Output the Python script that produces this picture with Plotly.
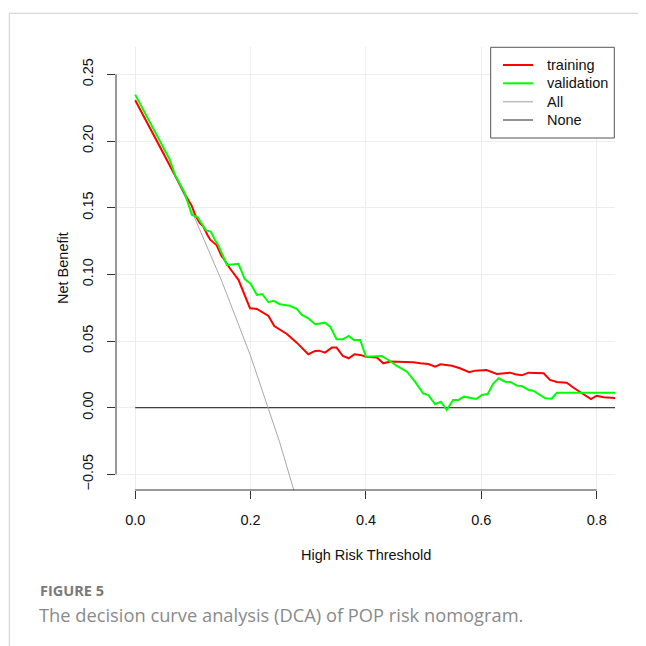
import plotly.graph_objects as go

# ---- data ----
series_names = ["training", "validation", "All", "None"]

train_t = [0.000, 0.060, 0.075, 0.087, 0.098, 0.104, 0.112, 0.118, 0.125, 0.130, 0.141, 0.150,
           0.153, 0.164, 0.179, 0.189, 0.199, 0.211, 0.231, 0.241, 0.251, 0.263, 0.280, 0.300,
           0.312, 0.319, 0.329, 0.341, 0.349, 0.360, 0.370, 0.380, 0.390, 0.400, 0.419, 0.430,
           0.442, 0.462, 0.482, 0.494, 0.508, 0.520, 0.529, 0.549, 0.563, 0.579, 0.589, 0.609,
           0.627, 0.650, 0.659, 0.670, 0.682, 0.708, 0.719, 0.731, 0.748, 0.760, 0.771, 0.780,
           0.790, 0.800, 0.812, 0.832]
train_nb = [0.2305, 0.1810, 0.1690, 0.1595, 0.1514, 0.1445, 0.1384, 0.1360, 0.1297, 0.1260, 0.1220, 0.1134,
            0.1120, 0.1046, 0.0959, 0.0846, 0.0746, 0.0741, 0.0688, 0.0613, 0.0583, 0.0553, 0.0488, 0.0401,
            0.0426, 0.0428, 0.0413, 0.0451, 0.0451, 0.0388, 0.0371, 0.0401, 0.0396, 0.0383, 0.0376, 0.0333,
            0.0346, 0.0346, 0.0341, 0.0333, 0.0328, 0.0308, 0.0326, 0.0315, 0.0296, 0.0266, 0.0278, 0.0283,
            0.0253, 0.0263, 0.0251, 0.0243, 0.0263, 0.0258, 0.0208, 0.0193, 0.0188, 0.0150, 0.0118, 0.0095,
            0.0065, 0.0090, 0.0078, 0.0073]

valid_t = [0.000, 0.060, 0.069, 0.086, 0.098, 0.108, 0.123, 0.131, 0.138, 0.144, 0.150, 0.159,
           0.179, 0.190, 0.200, 0.211, 0.220, 0.231, 0.240, 0.251, 0.268, 0.280, 0.289, 0.300,
           0.312, 0.329, 0.338, 0.349, 0.360, 0.370, 0.379, 0.390, 0.400, 0.427, 0.439, 0.453,
           0.471, 0.485, 0.499, 0.508, 0.520, 0.530, 0.540, 0.551, 0.560, 0.570, 0.591, 0.601,
           0.611, 0.621, 0.630, 0.641, 0.650, 0.662, 0.670, 0.682, 0.690, 0.711, 0.722, 0.731,
           0.832]
valid_nb = [0.2348, 0.1860, 0.1746, 0.1610, 0.1447, 0.1430, 0.1329, 0.1321, 0.1260, 0.1221, 0.1160, 0.1071,
            0.1079, 0.0964, 0.0930, 0.0846, 0.0853, 0.0791, 0.0801, 0.0776, 0.0764, 0.0741, 0.0696, 0.0671,
            0.0626, 0.0638, 0.0608, 0.0513, 0.0513, 0.0538, 0.0508, 0.0508, 0.0383, 0.0388, 0.0358, 0.0315,
            0.0270, 0.0195, 0.0108, 0.0095, 0.0026, 0.0045, -0.0017, 0.0058, 0.0058, 0.0083, 0.0065, 0.0095,
            0.0103, 0.0183, 0.0221, 0.0195, 0.0193, 0.0165, 0.0163, 0.0133, 0.0128, 0.0071, 0.0068, 0.0113,
            0.0113]

all_t = [0.00, 0.05, 0.10, 0.15, 0.20, 0.231, 0.25, 0.30]
all_nb = [0.231, 0.191, 0.1455, 0.095, 0.0388, 0.0, -0.0253, -0.0985]

none_t = [0.0, 0.832]
none_nb = [0.0, 0.0]

x_ticks = [0.0, 0.2, 0.4, 0.6, 0.8]
x_ticklabels = ["0.0", "0.2", "0.4", "0.6", "0.8"]
y_ticks = [-0.05, 0.0, 0.05, 0.10, 0.15, 0.20, 0.25]
y_ticklabels = ["\u22120.05", "0.00", "0.05", "0.10", "0.15", "0.20", "0.25"]

FONT = "Liberation Sans, Arial, Helvetica, sans-serif"
CAP_FONT = "Open Sans, Noto Sans, sans-serif"

colors = {"training": "#FF0000", "validation": "#00FF00", "All": "#A8A8A8", "None": "#111111"}
legend_colors = {"training": "#FF0000", "validation": "#00FF00", "All": "#BDBDBD", "None": "#6E6E6E"}
widths = {"training": 2, "validation": 2, "All": 1, "None": 1}

fig = go.Figure()
for name, xs, ys in [("None", none_t, none_nb), ("All", all_t, all_nb),
                     ("training", train_t, train_nb), ("validation", valid_t, valid_nb)]:
    fig.add_trace(go.Scatter(x=xs, y=ys, mode="lines", name=name,
                             line=dict(color=colors[name], width=widths[name])))

# page has an 8px body margin; figure is sized so the plot lands in page pixels
OFF = 8
PAGE_L, PAGE_R, PAGE_T, PAGE_B = 116, 615, 47, 490
FIG_W = FIG_H = 646 - OFF
L = PAGE_L - OFF
T = PAGE_T - OFF
R = 646 - PAGE_R
B = 646 - PAGE_B
W = PAGE_R - PAGE_L
H = PAGE_B - PAGE_T

def px(xp):  # page pixel -> paper x
    return (xp - PAGE_L) / W

def py(yp):  # page pixel -> paper y
    return (PAGE_B - yp) / H

fig.update_layout(
    width=FIG_W, height=FIG_H, autosize=False,
    margin=dict(l=L, r=R, t=T, b=B, pad=0),
    paper_bgcolor="white", plot_bgcolor="white",
    font=dict(family=FONT, size=14.5, color="#111111"),
    showlegend=False,
    xaxis=dict(range=[-0.0333, 0.8317], tickmode="array", tickvals=x_ticks,
               ticktext=x_ticklabels, ticks="outside", ticklen=8, tickwidth=1,
               tickcolor="#333333", showline=False, zeroline=False,
               showgrid=True, gridcolor="#EDEDED", gridwidth=1,
               ticklabelstandoff=9),
    yaxis=dict(range=[-0.0617, 0.2705], tickmode="array", tickvals=y_ticks,
               ticktext=y_ticklabels, ticks="outside", ticklen=8, tickwidth=1,
               tickcolor="#333333", showline=False, zeroline=False,
               showgrid=True, gridcolor="#EDEDED", gridwidth=1,
               tickangle=-90, ticklabelstandoff=8),
)

# R-style axis lines spanning first to last tick
fig.add_shape(type="line", xref="x", yref="paper", x0=x_ticks[0], x1=x_ticks[-1], y0=0, y1=0,
              line=dict(color="#333333", width=1))
fig.add_shape(type="line", xref="paper", yref="y", x0=0, x1=0, y0=y_ticks[0], y1=y_ticks[-1],
              line=dict(color="#333333", width=1))

# outer figure frame (article panel border)
fig.add_shape(type="line", xref="paper", yref="paper", x0=px(9.3), x1=px(646), y0=py(13.3), y1=py(13.3),
              line=dict(color="#CFCFCF", width=1))
fig.add_shape(type="line", xref="paper", yref="paper", x0=px(9.3), x1=px(9.3), y0=py(13.3), y1=py(646),
              line=dict(color="#CFCFCF", width=1))

# R-style legend box (top right of plot region)
fig.add_shape(type="rect", xref="paper", yref="paper", x0=px(490.7), x1=px(614.3),
              y0=py(138), y1=py(47.3), line=dict(color="#555555", width=1), fillcolor="white")
row_y = [65, 83.3, 101.7, 120]
for name, yy in zip(series_names, row_y):
    fig.add_shape(type="line", xref="paper", yref="paper", x0=px(503), x1=px(533),
                  y0=py(yy), y1=py(yy),
                  line=dict(color=legend_colors[name], width=2 if widths[name] > 1 else 1.5))
    fig.add_annotation(text=name, xref="paper", yref="paper", x=px(545), y=py(yy),
                       xanchor="left", yanchor="middle", showarrow=False,
                       font=dict(family=FONT, size=14.5, color="#111111"))

# axis titles
fig.add_annotation(text="High Risk Threshold", xref="paper", yref="paper",
                   x=px(366), y=py(555), xanchor="center", yanchor="middle",
                   showarrow=False, font=dict(family=FONT, size=14.5, color="#111111"))
fig.add_annotation(text="Net Benefit", xref="paper", yref="paper",
                   x=px(63), y=py(268), xanchor="center", yanchor="middle", textangle=-90,
                   showarrow=False, font=dict(family=FONT, size=14.5, color="#111111"))

# caption
fig.add_annotation(text="<b>FIGURE 5</b>", xref="paper", yref="paper",
                   x=px(39), y=py(600.5), xanchor="left", yanchor="bottom", borderpad=0,
                   showarrow=False, font=dict(family=CAP_FONT, size=14.5, color="#7A7A7A"))
fig.add_annotation(text="The decision curve analysis (DCA) of POP risk nomogram.",
                   xref="paper", yref="paper", x=px(38), y=py(600.5), xanchor="left", yanchor="top",
                   borderpad=0,
                   showarrow=False, font=dict(family=CAP_FONT, size=18.3, color="#8A8A8A"))

fig.write_html("out.html")
